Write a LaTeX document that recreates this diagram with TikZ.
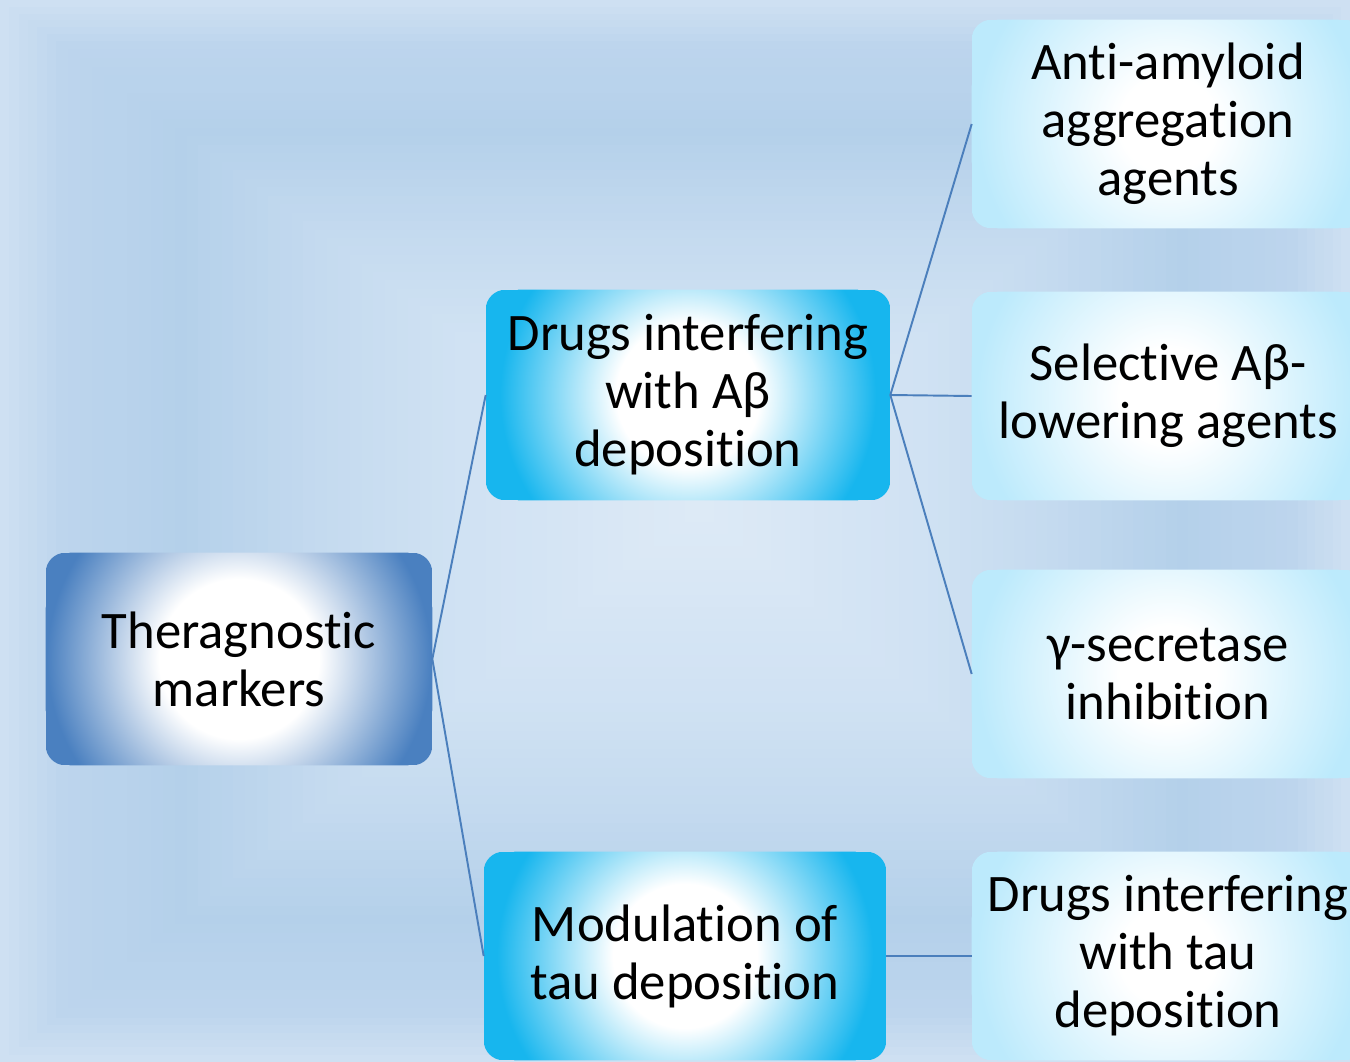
\documentclass[tikz,border=0pt]{standalone}
\usepackage{fontspec}
\setmainfont{Carlito}[Ligatures=NoCommon]
\definecolor{bgE0}{HTML}{CEE0F2}
\definecolor{bgE1}{HTML}{BDD5ED}
\definecolor{bgE2}{HTML}{B4D0EA}
\definecolor{bgE3}{HTML}{C4DAEF}
\definecolor{bgE4}{HTML}{D0E2F3}
\definecolor{bgE5}{HTML}{DEEAF6}
\definecolor{outA}{HTML}{4A80C0}
\definecolor{outB}{HTML}{17B6EE}
\definecolor{outC}{HTML}{BCEAFC}
\definecolor{linkC}{HTML}{4B7FBC}
\pgfdeclareradialshading{glowA}{\pgfpoint{0bp}{0bp}}{color(0bp)=(white); color(10bp)=(white); color(24bp)=(outA); color(50bp)=(outA)}
\pgfdeclareradialshading{glowB}{\pgfpoint{0bp}{0bp}}{color(0bp)=(white); color(9bp)=(white); color(23.5bp)=(outB); color(50bp)=(outB)}
\pgfdeclareradialshading{glowC}{\pgfpoint{0bp}{0bp}}{color(0bp)=(white); color(6bp)=(white); color(24bp)=(outC); color(50bp)=(outC)}
\pgfdeclarelayer{back}
\pgfdeclarelayer{boxes}
\pgfsetlayers{back,boxes,main}
\tikzset{
  boxbase/.style={inner sep=0pt, align=center,
    font=\fontsize{30pt}{33pt}\selectfont, text=black},
  rootbox/.style={boxbase, minimum width=7.72cm, minimum height=4.24cm},
  midbox/.style={boxbase, minimum width=8.08cm, minimum height=4.2cm},
  leafbox/.style={boxbase, minimum width=7.84cm, minimum height=4.16cm},
  link/.style={draw=linkC, line width=1.1pt}
}
\newcommand{\glowbox}[3]{%
  \begin{scope}
    \clip[rounded corners=0.4cm] (#1.south west) rectangle (#1.north east);
    \fill[#2] (#1.south west) rectangle (#1.north east);
    \shade[shading=#3] (#1.center) circle (4cm);
  \end{scope}}
\newcommand{\bgseg}[5]{%
  \foreach \k in {0,...,#5}{%
    \pgfmathsetmacro{\bgt}{#1+(#2-#1)*\k/#5}%
    \pgfmathsetmacro{\bgp}{100*\k/#5}%
    \fill[#4!\bgp!#3] ({700*\bgt},{510*\bgt}) rectangle ({1350-650*\bgt},{1062-552*\bgt});}}
\begin{document}
\begin{tikzpicture}[x=0.02cm,y=-0.02cm]
\useasboundingbox (0,0) rectangle (1350,1062);
\clip (0,0) rectangle (1350,1062);

\node[rootbox] (root) at (239,659) {Theragnostic\\markers};
\node[midbox] (abeta) at (688,395) {Drugs interfering\\with Aβ\\deposition};
\node[midbox, minimum width=8.04cm, minimum height=4.16cm] (tau) at (685,956) {Modulation of\\tau deposition};
\node[leafbox] (anti) at (1168,124) {Anti-amyloid\\aggregation\\agents};
\node[leafbox] (sel) at (1168,396) {Selective Aβ-\\lowering agents};
\node[leafbox] (gam) at (1168,674) {γ-secretase\\inhibition};
\node[leafbox] (dtau) at (1168,956) {Drugs interfering\\with tau\\deposition};

\begin{pgfonlayer}{back}
\bgseg{0}{0.08}{bgE0}{bgE1}{6}
\bgseg{0.08}{0.25}{bgE1}{bgE2}{10}
\bgseg{0.25}{0.45}{bgE2}{bgE3}{12}
\bgseg{0.45}{0.65}{bgE3}{bgE4}{12}
\bgseg{0.65}{1}{bgE4}{bgE5}{16}
\end{pgfonlayer}
\begin{pgfonlayer}{boxes}
\glowbox{root}{outA}{glowA}
\glowbox{abeta}{outB}{glowB}
\glowbox{tau}{outB}{glowB}
\glowbox{anti}{outC}{glowC}
\glowbox{sel}{outC}{glowC}
\glowbox{gam}{outC}{glowC}
\glowbox{dtau}{outC}{glowC}
\end{pgfonlayer}

\draw[link] (root.east) -- (abeta.west);
\draw[link] (root.east) -- (tau.west);
\draw[link] (abeta.east) -- (anti.west);
\draw[link] (abeta.east) -- (sel.west);
\draw[link] (abeta.east) -- (gam.west);
\draw[link] (tau.east) -- (dtau.west);
\end{tikzpicture}
\end{document}
